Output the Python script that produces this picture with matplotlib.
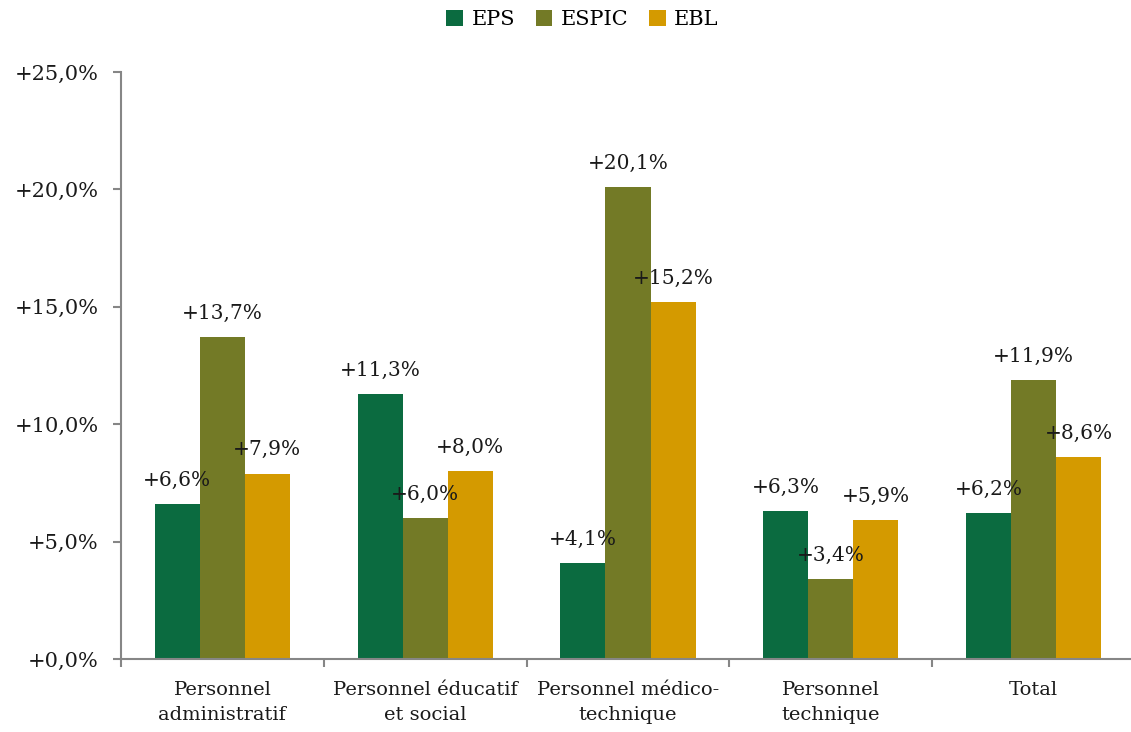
import numpy as np
import matplotlib
matplotlib.use('Agg')
import matplotlib.pyplot as plt
from matplotlib.ticker import FuncFormatter

categories = ['Personnel\nadministratif', 'Personnel éducatif\net social',
              'Personnel médico-\ntechnique', 'Personnel\ntechnique', 'Total']
series = ['EPS', 'ESPIC', 'EBL']
eps = [6.6, 11.3, 4.1, 6.3, 6.2]
espic = [13.7, 6.0, 20.1, 3.4, 11.9]
ebl = [7.9, 8.0, 15.2, 5.9, 8.6]
colors = ['#0B6B40', '#737A26', '#D49A00']

plt.rcParams['font.family'] = ['DejaVu Serif']
plt.rcParams['font.size'] = 14

fig = plt.figure(figsize=(11.31, 7.32), dpi=100)
ax = fig.add_axes([121 / 1131, 73 / 732, 1014 / 1131, 587 / 732])

x = np.arange(len(categories))
w = 0.222
for i, (vals, name) in enumerate(zip([eps, espic, ebl], series)):
    pos = x + (i - 1) * w
    ax.bar(pos, vals, w, color=colors[i], label=name)
    for px, v in zip(pos, vals):
        ax.annotate('+' + f'{v:.1f}'.replace('.', ',') + '%', (px, v),
                    xytext=(0, 17), textcoords='offset points',
                    ha='center', va='center', fontsize=14.5, color='#1a1a1a')

ax.set_xlim(-0.5, len(categories) - 0.5)
ax.set_ylim(0, 25)
ax.set_yticks([0, 5, 10, 15, 20, 25])
ax.yaxis.set_major_formatter(FuncFormatter(lambda v, p: '+' + f'{v:.1f}'.replace('.', ',') + '%'))
ax.set_xticks(x)
ax.set_xticklabels(categories, fontsize=14, linespacing=1.5, color='#1a1a1a')
ax.set_xticks(np.arange(-0.5, len(categories)), minor=True)
ax.tick_params(axis='x', which='major', length=0, pad=16)
ax.tick_params(axis='x', which='minor', length=6, color='#868686', width=1.5)
ax.tick_params(axis='y', length=6, color='#868686', width=1.5, labelsize=15,
               pad=10, labelcolor='#1a1a1a')

for s in ['top', 'right']:
    ax.spines[s].set_visible(False)
for s in ['left', 'bottom']:
    ax.spines[s].set_color('#868686')
    ax.spines[s].set_linewidth(1.5)

fig.legend(loc='upper center', bbox_to_anchor=(0.515, 1.012), ncol=3, frameon=False,
           fontsize=15, handlelength=0.8, handleheight=0.8, handletextpad=0.4,
           columnspacing=1.0)

fig.savefig('out.png', dpi=100)
